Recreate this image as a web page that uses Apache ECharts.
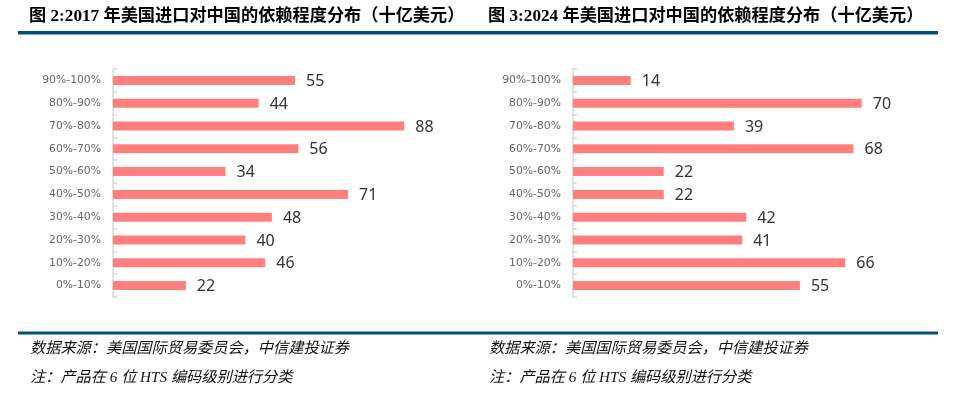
<!DOCTYPE html>
<html><head><meta charset="utf-8">
<script src="https://cdn.jsdelivr.net/npm/echarts@6/dist/echarts.min.js"></script>
<style>html,body{margin:0;padding:0;background:#fff}#c{width:955px;height:412px}</style>
</head><body><div id="c"></div>
<script>
const categories = ['90%-100%','80%-90%','70%-80%','60%-70%','50%-60%','40%-50%','30%-40%','20%-30%','10%-20%','0%-10%'];
const values2017 = [55,44,88,56,34,71,48,40,46,22];
const values2024 = [14,70,39,68,22,22,42,41,66,55];
const title2017 = '图 2:2017 年美国进口对中国的依赖程度分布（十亿美元）';
const title2024 = '图 3:2024 年美国进口对中国的依赖程度分布（十亿美元）';
const sourceText = '数据来源：美国国际贸易委员会，中信建投证券';
const noteText = '注：产品在 6 位 HTS 编码级别进行分类';

const chart = echarts.init(document.getElementById('c'), null, {renderer:'canvas'});
const barColor = '#FF7F7F';
function yAx(gi){return {type:'category',gridIndex:gi,data:categories,inverse:true,
  axisLine:{show:true,lineStyle:{color:'#D9D9D9',width:1.5}},
  axisTick:{show:true,inside:true,length:4,lineStyle:{color:'#D9D9D9',width:1.5}},
  axisLabel:{color:'#666',fontSize:10.8,fontFamily:'DejaVu Sans',margin:12}};}
function xAx(gi,max){return {type:'value',gridIndex:gi,min:0,max:max,show:false,splitLine:{show:false}};}
function ser(gi,data){return {type:'bar',xAxisIndex:gi,yAxisIndex:gi,data:data,barWidth:9,
  itemStyle:{color:barColor},
  label:{show:true,position:'right',distance:11,color:'#333',fontSize:16,fontFamily:'Noto Sans',offset:[0,1]},
  silent:true,animation:false};}
const titleStyle = {fontSize:17.2,fontWeight:'bold',fill:'#000',fontFamily:'Liberation Serif, Noto Sans CJK SC'};
const footStyle = {fontSize:15.2,fontStyle:'italic',fill:'#111',fontFamily:'Liberation Serif, Noto Sans CJK SC'};
chart.setOption({
  animation:false,
  grid:[{left:113,top:69,width:331,height:228},{left:573,top:69,width:330,height:228}],
  xAxis:[xAx(0,100),xAx(1,80)],
  yAxis:[yAx(0),yAx(1)],
  series:[ser(0,values2017),ser(1,values2024)],
  graphic:[
    {type:'text',left:29,top:8,style:Object.assign({text:title2017},titleStyle)},
    {type:'text',left:488,top:8,style:Object.assign({text:title2024},titleStyle)},
    {type:'rect',shape:{x:18,y:31,width:920,height:3.5},style:{fill:'#00507E'}},
    {type:'rect',shape:{x:18,y:331.5,width:920,height:3},style:{fill:'#00507E'}},
    {type:'text',left:30,top:341,style:Object.assign({text:sourceText},footStyle)},
    {type:'text',left:30,top:370,style:Object.assign({text:noteText},footStyle)},
    {type:'text',left:489,top:341,style:Object.assign({text:sourceText},footStyle)},
    {type:'text',left:489,top:370,style:Object.assign({text:noteText},footStyle)}
  ]
});
</script></body></html>
